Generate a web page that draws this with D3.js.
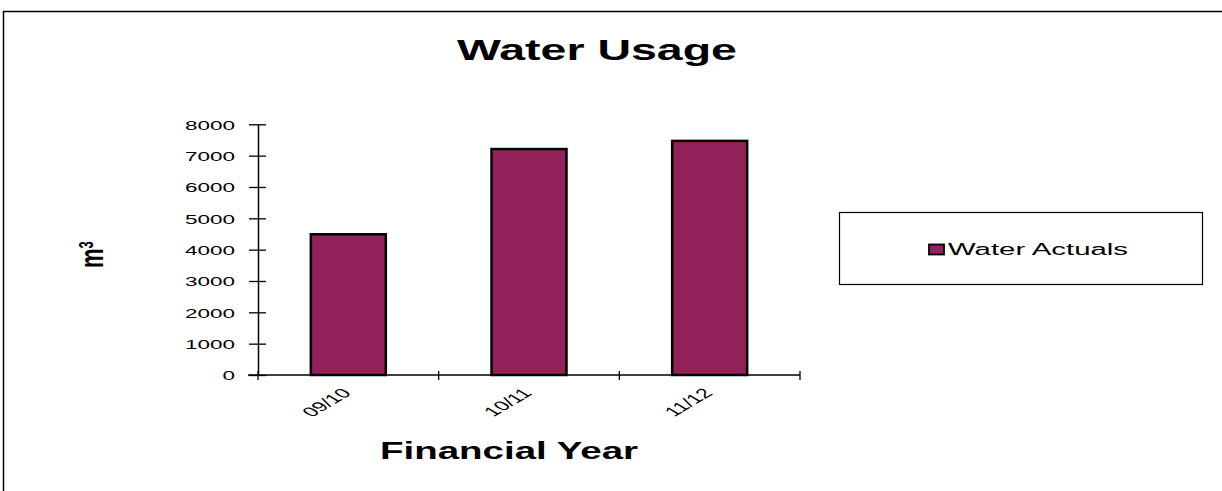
<!DOCTYPE html>
<html><head><meta charset="utf-8">
<script src="https://cdn.jsdelivr.net/npm/d3@7"></script>
<style>body{margin:0;background:#fff}svg{display:block}text{font-family:"Liberation Sans",Arial,sans-serif}</style>
</head><body><svg id="c" width="1222" height="491"></svg>
<script>
const categories = ["09/10","10/11","11/12"];
const waterActuals = [4490, 7210, 7470];
const yTicks = [0,1000,2000,3000,4000,5000,6000,7000,8000];
const seriesName = "Water Actuals";

const svg = d3.select("#c");
svg.append("rect").attr("x",3.5).attr("y",11.5).attr("width",1230).attr("height",500)
  .attr("fill","#fff").attr("stroke","#000").attr("stroke-width",1.5);

const x0=258, x1=800, yTop=124.3, yBot=375;
const x = d3.scaleBand().domain(categories).range([x0,x1]).paddingInner(0.585).paddingOuter(0.2925);
const y = d3.scaleLinear().domain([0,8000]).range([yBot,yTop]);

svg.append("g").selectAll("rect.bar").data(waterActuals).enter().append("rect")
  .attr("x",(d,i)=>x(categories[i])).attr("width",x.bandwidth())
  .attr("y",d=>y(d)).attr("height",d=>yBot-y(d))
  .attr("fill","#93215A").attr("stroke","#000").attr("stroke-width",2.5);

// y axis
const ya = svg.append("g").attr("transform",`translate(${x0},0)`)
  .call(d3.axisLeft(y).tickValues(yTicks).tickSize(0).tickPadding(23).tickFormat(d3.format("d")));
ya.select(".domain").attr("stroke","#000").attr("stroke-width",1.5);
ya.selectAll("text").attr("font-size",13.5).attr("fill","#000").attr("dy",null).attr("y",4.8)
  .attr("textLength",d=>String(d).length*12.5).attr("lengthAdjust","spacingAndGlyphs");
ya.selectAll(".tick").append("line").attr("x1",-9).attr("x2",8).attr("stroke","#000").attr("stroke-width",1.3);

// x axis
const xa = svg.append("g").attr("transform",`translate(0,${yBot})`)
  .call(d3.axisBottom(x).tickSize(0).tickFormat(""));
xa.select(".domain").attr("stroke","#000").attr("stroke-width",1.5).attr("d",`M${x0-10},0H${x1}`);
const step = x.step();
const bounds = d3.range(categories.length+1).map(i=>x0+i*step);
svg.append("g").selectAll("line").data(bounds).enter().append("line")
  .attr("x1",d=>d).attr("x2",d=>d).attr("y1",yBot-4).attr("y2",yBot+5)
  .attr("stroke","#000").attr("stroke-width",1.3);
svg.append("g").selectAll("text").data(categories).enter().append("text")
  .attr("transform",d=>`translate(${x(d)+x.bandwidth()/2+4},${yBot+19}) scale(1.7,1) rotate(-45)`)
  .attr("text-anchor","end").attr("font-size",13.5).attr("fill","#000").text(d=>d);

// title and axis labels
svg.append("text").attr("x",457).attr("y",60)
  .attr("font-size",30).attr("font-weight","bold")
  .attr("textLength",280).attr("lengthAdjust","spacingAndGlyphs").text("Water Usage");
svg.append("text").attr("x",380).attr("y",459)
  .attr("font-size",24).attr("font-weight","bold")
  .attr("textLength",258).attr("lengthAdjust","spacingAndGlyphs").text("Financial Year");
const yl = svg.append("text").attr("transform","translate(103,268) scale(1.5,1) rotate(-90)")
  .attr("font-size",22).attr("font-weight","bold");
yl.append("tspan").text("m");
yl.append("tspan").attr("font-size",13).attr("dy",-7).text("3");

// legend
svg.append("rect").attr("x",839.5).attr("y",212.5).attr("width",363).attr("height",72)
  .attr("fill","#fff").attr("stroke","#000").attr("stroke-width",1.2);
svg.append("rect").attr("x",929).attr("y",244.5).attr("width",15).attr("height",10)
  .attr("fill","#93215A").attr("stroke","#000").attr("stroke-width",1.8);
svg.append("text").attr("x",948).attr("y",255).attr("font-size",16).attr("fill","#000")
  .attr("textLength",180).attr("lengthAdjust","spacingAndGlyphs").text(seriesName);
</script></body></html>
